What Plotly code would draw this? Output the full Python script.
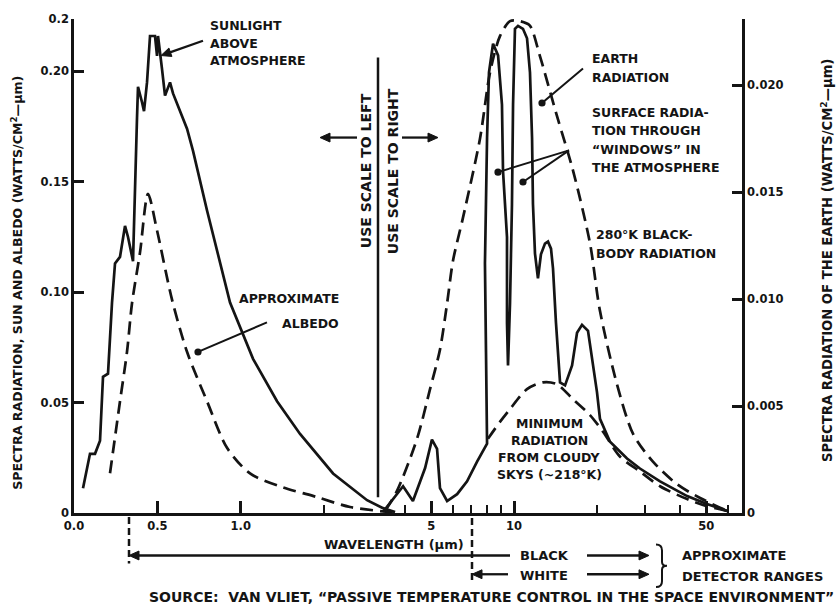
import math
import plotly.graph_objects as go

# ---------------- data ----------------
# Left scale (linear wavelength, µm) : sun above atmosphere & albedo
sun_wl = [0.054, 0.096, 0.126, 0.156, 0.174, 0.204, 0.228, 0.246, 0.276, 0.306, 0.324,
          0.354, 0.378, 0.384, 0.408, 0.420, 0.438, 0.456, 0.486, 0.498, 0.504, 0.516,
          0.528, 0.546, 0.576, 0.594, 0.636, 0.678, 0.714, 0.798, 0.936, 1.074, 1.218,
          1.356, 1.554, 1.758, 1.854, 1.926]
sun_val = [0.0112, 0.0268, 0.0268, 0.0327, 0.0617, 0.0631, 0.0953, 0.113, 0.116, 0.130, 0.125,
           0.114, 0.179, 0.193, 0.186, 0.182, 0.195, 0.216, 0.216, 0.207, 0.216, 0.207,
           0.201, 0.189, 0.195, 0.190, 0.182, 0.174, 0.164, 0.137, 0.0953, 0.0698, 0.0506,
           0.0358, 0.0179, 0.0058, 0.0022, 0.0004]

albedo_wl = [0.216, 0.276, 0.318, 0.348, 0.396, 0.444, 0.498, 0.588, 0.678, 0.798, 0.918,
             1.056, 1.254, 1.458, 1.656, 1.956]
albedo_val = [0.018, 0.0506, 0.073, 0.095, 0.118, 0.1445, 0.128, 0.0966, 0.073, 0.0506, 0.0295,
              0.0179, 0.0116, 0.0072, 0.0027, 0.0]

# Right scale (log wavelength, µm) : earth radiation
bb_wl = [3.40, 3.75, 4.44, 4.95, 5.38, 5.71, 6.00, 6.52, 7.52, 8.18, 8.89, 9.67, 10.5, 11.4,
         12.4, 14.3, 16.4, 18.9, 20.5, 23.7, 27.1, 32.0, 39.2, 47.5, 59.5]
bb_val = [0.0001, 0.00102, 0.00347, 0.00579, 0.00764, 0.0098, 0.0118, 0.0138, 0.0175, 0.0206,
          0.0223, 0.0230, 0.0230, 0.0228, 0.0214, 0.0186, 0.0160, 0.0126, 0.0095, 0.0060,
          0.0037, 0.0024, 0.00134, 0.0007, 0.0001]

earth_wl = [3.34, 3.95, 4.29, 4.75, 5.03, 5.25, 5.38, 5.71, 6.21, 6.75, 7.34, 7.98, 7.91, 7.84,
            7.98, 8.11, 8.39, 8.75, 9.04, 9.12, 9.43, 9.43, 9.51, 9.67, 9.83, 9.92, 10.08,
            10.34, 10.78, 11.15, 11.43, 11.63, 11.72, 11.92, 12.22, 12.53, 12.96, 13.29, 13.63,
            13.86, 14.21, 14.70, 15.33, 16.26, 16.95, 17.67, 18.58, 19.37, 20.03, 20.54, 22.34,
            25.76, 28.7, 33.96, 42.6, 50.3, 59.5]
earth_val = [0.00005, 0.00125, 0.00056, 0.0021, 0.00343, 0.0030, 0.00116, 0.00056, 0.00088,
             0.00148, 0.0024, 0.00324, 0.0075, 0.01167, 0.01755, 0.0206, 0.02194, 0.0214,
             0.0191, 0.0160, 0.0129, 0.00889, 0.0069, 0.0098, 0.01444, 0.0191, 0.02264,
             0.02278, 0.02264, 0.0222, 0.0206, 0.01755, 0.01444, 0.01213, 0.01097, 0.0121,
             0.0126, 0.01269, 0.01236, 0.01144, 0.00889, 0.00611, 0.00597, 0.0069, 0.00843,
             0.0088, 0.00852, 0.00704, 0.00565, 0.0044, 0.00333, 0.00255, 0.00208, 0.00148,
             0.00079, 0.00042, 0.0001]

cloud_wl = [8.04, 8.89, 9.67, 11.15, 12.75, 14.33, 16.39, 18.89, 21.07, 24.27, 28.7, 33.96,
            42.6, 50.3, 59.5]
cloud_val = [0.00347, 0.00426, 0.00486, 0.00579, 0.00611, 0.00602, 0.00532, 0.00458, 0.0038,
             0.00264, 0.00194, 0.00125, 0.00065, 0.00032, 0.0001]

left_ticks = [0, 0.05, 0.10, 0.15, 0.20, 0.2237]
left_ticktext = ["0", "0.05", "0.10", "0.15", "0.20", "0.2"]
right_ticks = [0, 0.005, 0.010, 0.015, 0.020]
right_ticktext = ["0", "0.005", "0.010", "0.015", "0.020"]
right_top = [0.0231]
lin_ticks = [0.0, 0.5, 1.0]
lin_ticktext = ["0.0", "0.5", "1.0"]
lin_minor = [1.5]
log_ticks = [5, 10, 50]
log_ticktext = ["5", "10", "50"]
log_minor = [4, 6, 7, 8, 9, 20, 30, 40, 60]

# ---------------- layout helpers ----------------
W, H = 838, 609
L, R, T, B = 74, 96, 13, 96
PW = W - L - R
PH = H - T - B
INK = "#141414"
FONT = "DejaVu Sans"
DASH = "13px,7px"


def px(x):
    return (x - L) / PW


def py(y):
    return (T + PH - y) / PH


def bold(size):
    return dict(family=FONT, size=size, color=INK, weight=700)


fig = go.Figure()

fig.add_trace(go.Scatter(x=sun_wl, y=sun_val, mode="lines", xaxis="x", yaxis="y",
                         line=dict(color=INK, width=2.7), showlegend=False))
fig.add_trace(go.Scatter(x=albedo_wl, y=albedo_val, mode="lines", xaxis="x", yaxis="y",
                         line=dict(color=INK, width=2.7, dash=DASH, shape="spline", smoothing=0.8),
                         showlegend=False))
fig.add_trace(go.Scatter(x=bb_wl, y=bb_val, mode="lines", xaxis="x2", yaxis="y2",
                         line=dict(color=INK, width=2.7, dash=DASH, shape="spline", smoothing=0.8),
                         showlegend=False))
fig.add_trace(go.Scatter(x=earth_wl, y=earth_val, mode="lines", xaxis="x2", yaxis="y2",
                         line=dict(color=INK, width=2.7), showlegend=False))
fig.add_trace(go.Scatter(x=cloud_wl, y=cloud_val, mode="lines", xaxis="x2", yaxis="y2",
                         line=dict(color=INK, width=2.7, dash=DASH, shape="spline", smoothing=0.8),
                         showlegend=False))

tickfont = bold(11.5)

fig.update_layout(
    width=W, height=H,
    margin=dict(l=L, r=R, t=T, b=B, pad=0),
    paper_bgcolor="white", plot_bgcolor="rgba(0,0,0,0)",
    xaxis=dict(domain=[0, px(405)], range=[0, (405 - L) / 166.7], anchor="y",
               showgrid=False, zeroline=False, showline=True, linecolor=INK, linewidth=2.5,
               tickmode="array", tickvals=lin_ticks, ticktext=lin_ticktext,
               ticks="inside", ticklen=12, tickwidth=2.5, tickcolor=INK, tickfont=tickfont,
               minor=dict(tickmode="array", tickvals=lin_minor, ticks="inside", ticklen=8,
                          tickwidth=2, tickcolor=INK)),
    xaxis2=dict(domain=[px(380), 1], type="log", range=[0.5127, 1.829], anchor="y2",
                showgrid=False, zeroline=False, showline=True, linecolor=INK, linewidth=2.5,
                tickmode="array", tickvals=log_ticks, ticktext=log_ticktext,
                ticks="inside", ticklen=12, tickwidth=2.5, tickcolor=INK, tickfont=tickfont,
                minor=dict(tickmode="array", tickvals=log_minor, ticks="inside", ticklen=8,
                           tickwidth=2, tickcolor=INK)),
    yaxis=dict(domain=[0, 1], range=[0, 0.2237], anchor="x", side="left",
               showgrid=False, zeroline=False, showline=True, linecolor=INK, linewidth=2.5,
               tickmode="array", tickvals=left_ticks, ticktext=left_ticktext,
               ticks="inside", ticklen=10, tickwidth=2.5, tickcolor=INK, tickfont=tickfont),
    yaxis2=dict(domain=[0, 1], range=[0, 0.0231], anchor="x2", side="right",
                showgrid=False, zeroline=False, showline=True, linecolor=INK, linewidth=2.5,
                tickmode="array", tickvals=right_ticks, ticktext=right_ticktext,
                ticks="inside", ticklen=10, tickwidth=2.5, tickcolor=INK, tickfont=tickfont,
                minor=dict(tickmode="array", tickvals=right_top, ticks="inside", ticklen=10,
                           tickwidth=2.5, tickcolor=INK)),
)

annos = []
shapes = []


def text(s, x, y, size=12.5, xanchor="left", angle=0):
    annos.append(dict(text=s, x=px(x), y=py(y), xref="paper", yref="paper",
                      xanchor=xanchor, yanchor="middle", showarrow=False, textangle=angle,
                      font=bold(size)))


def seg(x0, y0, x1, y1, width=2.3, dash="solid"):
    shapes.append(dict(type="line", xref="paper", yref="paper",
                       x0=px(x0), y0=py(y0), x1=px(x1), y1=py(y1),
                       line=dict(color=INK, width=width, dash=dash)))


def head(x0, y0, x1, y1, ln=10, hw=4.5):
    d = math.hypot(x1 - x0, y1 - y0)
    ux, uy = (x1 - x0) / d, (y1 - y0) / d
    bx, by = x1 - ux * ln, y1 - uy * ln
    p1 = (bx - uy * hw, by + ux * hw)
    p2 = (bx + uy * hw, by - ux * hw)
    path = "M {} {} L {} {} L {} {} Z".format(px(x1), py(y1), px(p1[0]), py(p1[1]),
                                             px(p2[0]), py(p2[1]))
    shapes.append(dict(type="path", xref="paper", yref="paper", path=path,
                       fillcolor=INK, line=dict(color=INK, width=1)))


def dot(x, y, r=3.6):
    shapes.append(dict(type="circle", xref="paper", yref="paper",
                       x0=px(x - r), x1=px(x + r), y0=py(y + r), y1=py(y - r),
                       fillcolor=INK, line=dict(color=INK, width=0)))


def arrow(x0, y0, x1, y1, width=2.3):
    d = math.hypot(x1 - x0, y1 - y0)
    k = (d - 8) / d
    seg(x0, y0, x0 + (x1 - x0) * k, y0 + (y1 - y0) * k, width=width)
    head(x0, y0, x1, y1)


def pointer(x0, y0, x1, y1):
    seg(x0, y0, x1, y1, width=2)
    dot(x1, y1)


# curve labels
for i, s in enumerate(["SUNLIGHT", "ABOVE", "ATMOSPHERE"]):
    text(s, 208, 20 + 17.5 * i)
arrow(203, 35, 161, 50)

text("APPROXIMATE", 341, 296, xanchor="right")
text("ALBEDO", 341, 321, xanchor="right")
pointer(267, 320, 198, 350)

text("EARTH", 590, 53)
text("RADIATION", 590, 72)
pointer(583, 63, 542, 98)

for i, s in enumerate(["SURFACE RADIA-", "TION THROUGH", "\u201cWINDOWS\u201d IN", "THE ATMOSPHERE"]):
    text(s, 590, 108 + 18.3 * i)
pointer(569, 146, 498, 168)
pointer(569, 146, 523, 178)

text("280\u00b0K BLACK-", 594, 231)
text("BODY RADIATION", 594, 250)

for i, s in enumerate(["MINIMUM", "RADIATION", "FROM CLOUDY", "SKYS (~218\u00b0K)"]):
    text(s, 549, 422 + 17.3 * i, xanchor="center")

text("USE SCALE TO LEFT", 366, 167, size=14, angle=-90, xanchor="center")
text("USE SCALE TO RIGHT", 393, 167, size=14, angle=-90, xanchor="center")
arrow(357, 133, 320, 133)
arrow(402, 133, 438, 133)

# axis titles
text("SPECTRA RADIATION, SUN AND ALBEDO (WATTS/CM<sup>2</sup>\u2014\u00b5m)", 17, 280,
     size=12.6, angle=-90, xanchor="center")
text("SPECTRA RADIATION OF THE EARTH (WATTS/CM<sup>2</sup>\u2014\u00b5m)", 827, 258,
     size=13.2, angle=-90, xanchor="center")
text("WAVELENGTH (\u00b5m)", 394, 545, size=13, xanchor="center")

# detector ranges
arrow(510, 556, 129, 556)
text("BLACK", 518, 556, size=13)
arrow(508, 575, 472, 575)
text("WHITE", 518, 576, size=13)
arrow(587, 556, 649, 556)
arrow(587, 575, 649, 575)
text("APPROXIMATE", 680, 556, size=13)
text("DETECTOR RANGES", 680, 577, size=13)

text("SOURCE:  VAN VLIET, \u201cPASSIVE TEMPERATURE CONTROL IN THE SPACE ENVIRONMENT\u201d",
     147, 598, size=14)

seg(378, 52, 378, 497, width=2.5)   # scale divider
seg(129, 517, 129, 564, width=2.5, dash="7px,4px")
seg(472, 518, 472, 584, width=2.5, dash="7px,4px")

# brace
bx, byt, byb = 656, 545, 588
bm = (byt + byb) / 2
path = "M {} {}".format(px(bx), py(byt))
path += " Q {} {} {} {}".format(px(bx + 6), py(byt), px(bx + 6), py(byt + 6))
path += " L {} {}".format(px(bx + 6), py(bm - 4))
path += " Q {} {} {} {}".format(px(bx + 6), py(bm), px(bx + 11), py(bm))
path += " Q {} {} {} {}".format(px(bx + 6), py(bm), px(bx + 6), py(bm + 4))
path += " L {} {}".format(px(bx + 6), py(byb - 6))
path += " Q {} {} {} {}".format(px(bx + 6), py(byb), px(bx), py(byb))
shapes.append(dict(type="path", xref="paper", yref="paper", path=path,
                   line=dict(color=INK, width=2)))

fig.update_layout(annotations=annos, shapes=shapes)

fig.write_html("out.html")
